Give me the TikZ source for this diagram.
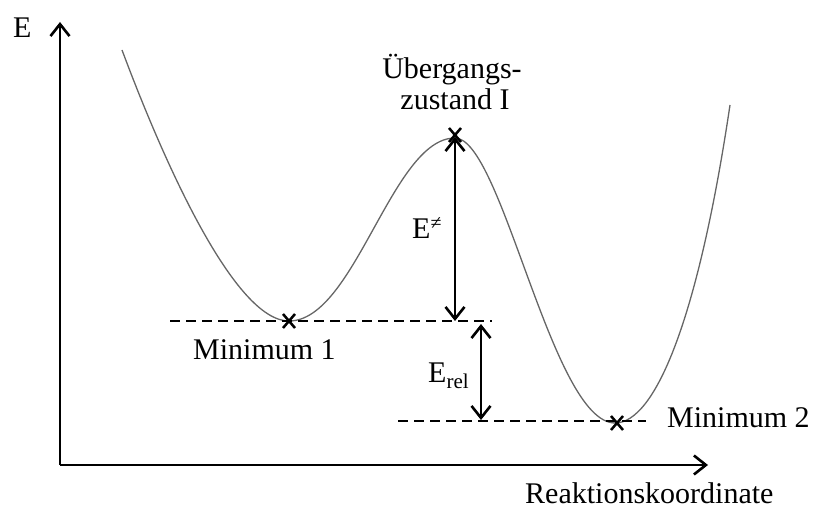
\documentclass[tikz,border=0pt]{standalone}
\usepackage{fontspec}
\setmainfont{Liberation Serif}
\usetikzlibrary{arrows.meta}
\begin{document}
\begin{tikzpicture}[x=1pt,y=-1pt,
  lbl/.style={font=\fontsize{30}{35}\selectfont, inner sep=0pt, text=black},
  barb/.tip={Straight Barb[length=12pt,width=19pt,line width=2.6pt]},
  axisline/.style={line width=2.7pt, -barb},
  dimline/.style={line width=2.7pt, barb-barb},
  levelline/.style={line width=2.7pt, dash pattern=on 10pt off 6pt},
  energycurve/.style={draw=black!60, line width=1.3pt},
  crossmark/.style={line width=2.5pt}]
\useasboundingbox (0,0) rectangle (815,511);
% axes
\coordinate (origin) at (60,465);
\coordinate (ytip) at (60,22);
\coordinate (xtip) at (708,465);
\draw[axisline] (origin) -- (ytip);
\draw[axisline] (origin) -- (xtip);
% curve
\coordinate (c0) at (122,50);
\coordinate (m1) at (289,321);
\coordinate (pk) at (455,138);
\coordinate (m2c) at (615,423);
\coordinate (c4) at (730,105);
\draw[energycurve] (c0) .. controls (165,165) and (235,321) .. (m1)
  .. controls (355,321) and (392,138) .. (pk)
  .. controls (502,138) and (552,423) .. (m2c)
  .. controls (655,423) and (698,320) .. (c4);
% levels
\coordinate (l1a) at (170,321);
\coordinate (l1b) at (492,321);
\coordinate (l2a) at (398,421);
\coordinate (l2b) at (646,421);
\draw[levelline] (l1a) -- (l1b);
\draw[levelline] (l2a) -- (l2b);
% crosses
\coordinate (ts) at (455,135);
\coordinate (m2) at (617,423);
\foreach \p in {m1,ts,m2}{
  \draw[crossmark] (\p) ++(-6,-7) -- ++(12,14);
  \draw[crossmark] (\p) ++(6,-7) -- ++(-12,14);
}
% dimension arrows
\coordinate (ea) at (455,137);
\coordinate (eb) at (455,321);
\coordinate (ra) at (481,324);
\coordinate (rb) at (481,420);
\draw[dimline] (ea) -- (eb);
\draw[dimline] (ra) -- (rb);
% labels
\node[lbl, anchor=base west] (ylab) at (13,38) {E};
\node[lbl, anchor=base] (ts1) at (452,79) {Übergangs-};
\node[lbl, anchor=base] (ts2) at (455,110) {zustand I};
\node[lbl, anchor=base west] (ebar) at (412,238) {E\raisebox{9pt}{\fontsize{20}{20}\selectfont ≠}};
\node[lbl, anchor=base west] (erel) at (428,382) {E\raisebox{-6pt}{\fontsize{21}{21}\selectfont rel}};
\node[lbl, anchor=base west] (min1) at (193,359) {Minimum 1};
\node[lbl, anchor=base west] (min2) at (667,427) {Minimum 2};
\node[lbl, anchor=base west] (xlab) at (525,503) {Reaktionskoordinate};
\end{tikzpicture}
\end{document}
